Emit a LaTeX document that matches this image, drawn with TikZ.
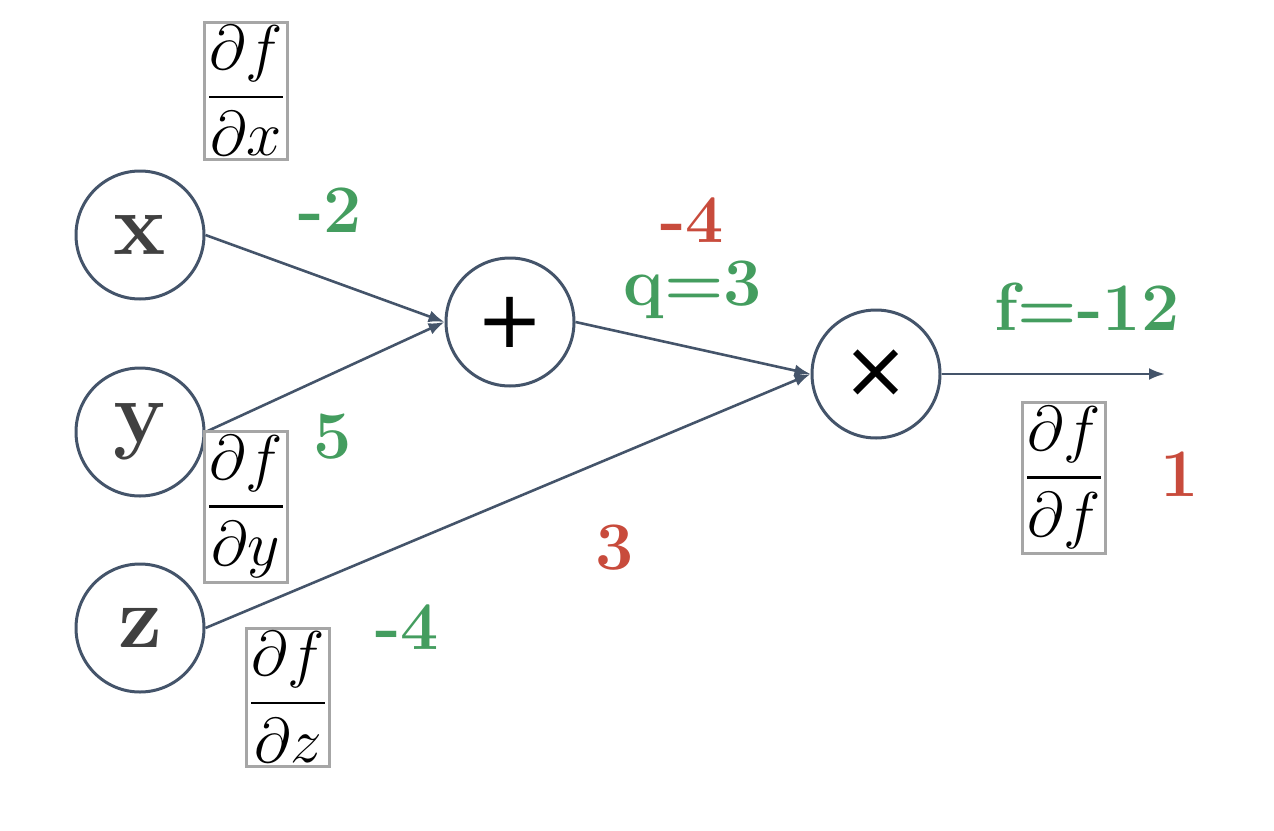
\documentclass[tikz,border=0pt]{standalone}
\usepackage{fontspec}
\usepackage{amsmath}
\newfontfamily\opfont{DejaVu Sans}
\usetikzlibrary{arrows.meta}
\definecolor{wiregray}{HTML}{44546A}
\definecolor{fwdgreen}{HTML}{449D5F}
\definecolor{bwdred}{HTML}{C84B3C}
\definecolor{boxgray}{HTML}{A6A6A6}
\definecolor{vargray}{HTML}{404040}
\newcommand{\gradfrac}[1]{\scalebox{1.27}{$\dfrac{\partial f}{\partial #1}$}}
\tikzset{
    gate/.style={circle, draw=wiregray, line width=1.5pt, minimum size=64pt, inner sep=0pt, fill=white},
    invar/.style={gate, text=vargray, font=\fontsize{44}{48}\selectfont\bfseries},
    opgate/.style={gate, font=\fontsize{40}{44}\selectfont\opfont},
    wire/.style={draw=wiregray, line width=1.3pt, -{Latex[length=8pt,width=6pt]}},
    fwd/.style={text=fwdgreen, font=\fontsize{34}{38}\selectfont\bfseries},
    bwd/.style={text=bwdred, font=\fontsize{34}{38}\selectfont\bfseries},
    grad/.style={draw=boxgray, line width=1.5pt, inner xsep=1pt, inner ysep=2pt, font=\fontsize{24.88}{30}\selectfont},
}
\begin{document}
\begin{tikzpicture}[x=0.5pt,y=-0.5pt]
		\useasboundingbox (0,0) rectangle (1274,830);
		% Input variables
		\node[invar] (x) at (140,235) {x};
		\node[invar] (y) at (140,432) {y};
		\node[invar] (z) at (140,628) {z};
		% The two gates
		\node[opgate] (plus) at (510,322) {+};
		\node[opgate] (times) at (876,374) {×};
		\coordinate (out) at (1165,374);
		% Wires
		\draw[wire] (x.east) -- (plus.west);
		\draw[wire] (y.east) -- (plus.west);
		\draw[wire] (plus.east) -- (times.west);
		\draw[wire] (z.east) -- (times.west);
		\draw[wire] (times.east) -- (out);
		% Forward values
		\node[fwd] (xval) at (330,210) {-2};
		\node[fwd] (yval) at (333,437) {5};
		\node[fwd] (zval) at (407,627) {-4};
		\node[fwd] (qval) at (693,290) {q=3};
		\node[fwd] (fval) at (1087,307) {f=-12};
		% Backward values
		\node[bwd] (qgrad) at (692,220) {-4};
		\node[bwd] (zgrad) at (615,548) {3};
		\node[bwd] (fgrad) at (1180,474) {1};
		% Gradient boxes
		\node[grad] (dfdx) at (246,91) {\gradfrac{x}};
		\node[grad] (dfdy) at (246,507) {\gradfrac{y}};
		\node[grad] (dfdz) at (288,697) {\gradfrac{z}};
		\node[grad] (dfdf) at (1064,478) {\gradfrac{f}};
	\end{tikzpicture}
\end{document}
